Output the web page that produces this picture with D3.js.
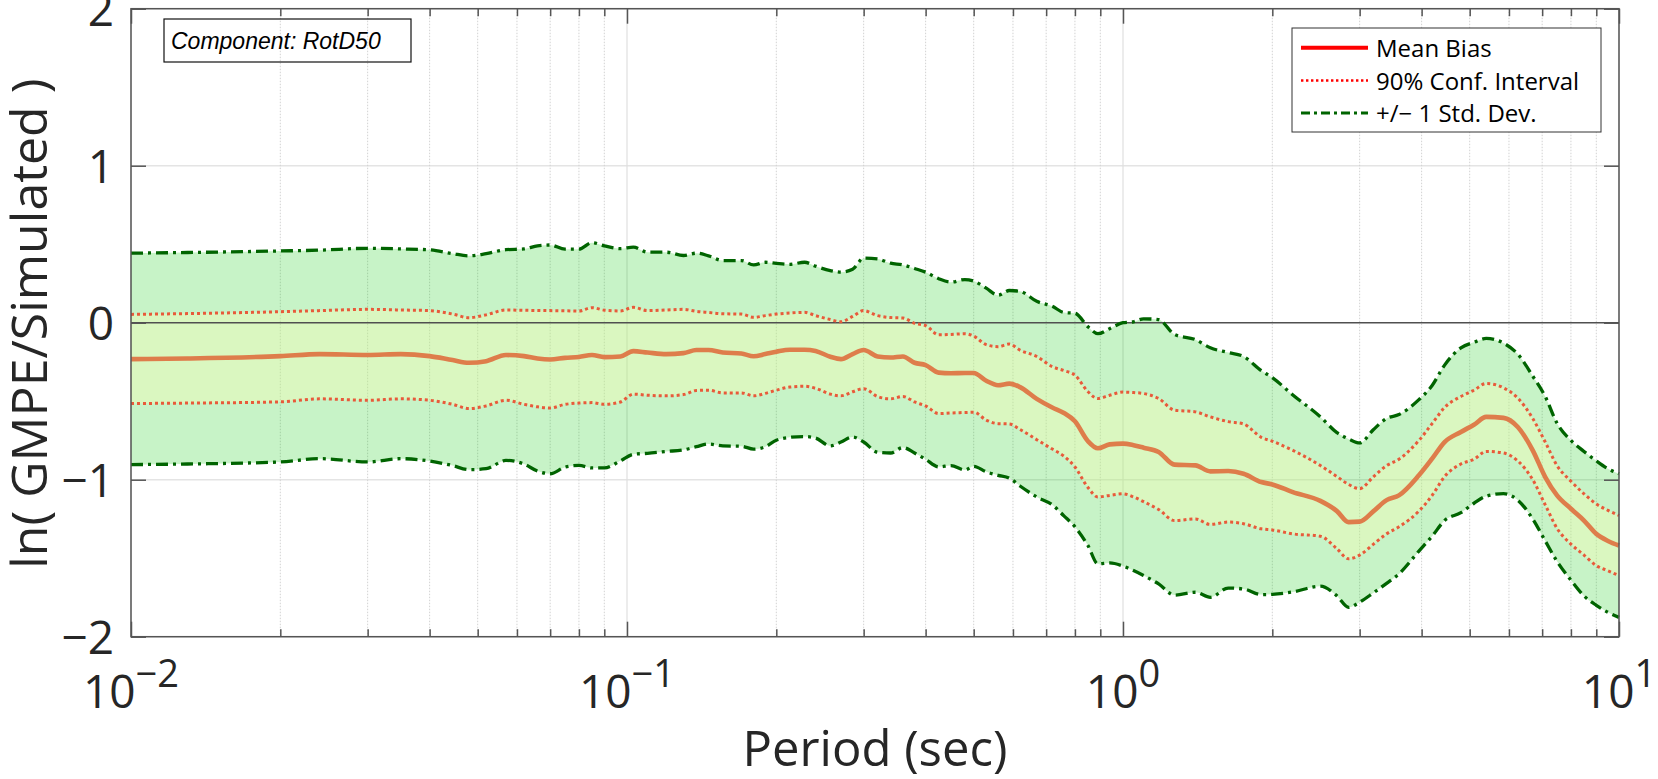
<!DOCTYPE html>
<html>
<head>
<meta charset="utf-8">
<script src="https://cdn.jsdelivr.net/npm/d3@7"></script>
<style>
  body { margin: 0; background: #fff; }
  text { font-family: "Open Sans", sans-serif; fill: #262626; }
</style>
</head>
<body>
<svg width="1658" height="779"></svg>
<script>
// periods (sec) and the five curves
var periods = [0.01, 0.013, 0.02, 0.024, 0.03, 0.035, 0.04, 0.0445, 0.048, 0.052,
  0.057, 0.062, 0.066, 0.07, 0.075, 0.08, 0.085, 0.09, 0.097, 0.103,
  0.11, 0.12, 0.13, 0.138, 0.146, 0.156, 0.17, 0.18, 0.19, 0.2,
  0.213, 0.228, 0.24, 0.257, 0.27, 0.285, 0.3, 0.32, 0.34, 0.36,
  0.38, 0.4, 0.425, 0.45, 0.48, 0.5, 0.53, 0.56, 0.59, 0.62,
  0.67, 0.72, 0.76, 0.8, 0.85, 0.89, 0.94, 1.0, 1.05, 1.1,
  1.18, 1.27, 1.4, 1.5, 1.63, 1.75, 1.9, 2.0, 2.2, 2.5,
  2.7, 2.85, 3.0, 3.2, 3.4, 3.6, 3.95, 4.2, 4.45, 4.8,
  5.1, 5.4, 5.85, 6.25, 6.7, 7.1, 7.5, 8.0, 8.5, 9.0, 9.5, 10.0];

var meanBias = [-0.232, -0.228, -0.213, -0.200, -0.206, -0.200, -0.213, -0.238, -0.255, -0.245,
  -0.206, -0.213, -0.228, -0.234, -0.224, -0.218, -0.206, -0.219, -0.215, -0.181,
  -0.190, -0.200, -0.194, -0.174, -0.174, -0.190, -0.196, -0.214, -0.200, -0.185,
  -0.172, -0.172, -0.180, -0.217, -0.232, -0.200, -0.174, -0.215, -0.222, -0.215,
  -0.255, -0.270, -0.318, -0.322, -0.320, -0.320, -0.370, -0.398, -0.388, -0.410,
  -0.485, -0.540, -0.575, -0.628, -0.755, -0.800, -0.775, -0.770, -0.780, -0.796,
  -0.823, -0.904, -0.909, -0.947, -0.945, -0.962, -1.015, -1.030, -1.079, -1.135,
  -1.200, -1.270, -1.267, -1.200, -1.130, -1.100, -0.972, -0.866, -0.760, -0.696,
  -0.650, -0.600, -0.606, -0.664, -0.813, -0.983, -1.100, -1.185, -1.260, -1.345, -1.390, -1.419];

var ciUpper = [0.053, 0.058, 0.070, 0.077, 0.085, 0.081, 0.077, 0.055, 0.032, 0.050,
  0.081, 0.079, 0.078, 0.077, 0.076, 0.074, 0.096, 0.080, 0.075, 0.098,
  0.077, 0.081, 0.085, 0.072, 0.065, 0.057, 0.055, 0.034, 0.045, 0.055,
  0.062, 0.066, 0.045, 0.020, 0.006, 0.040, 0.077, 0.045, 0.033, 0.030,
  -0.004, -0.018, -0.077, -0.075, -0.070, -0.085, -0.140, -0.153, -0.136, -0.175,
  -0.215, -0.280, -0.305, -0.334, -0.440, -0.483, -0.462, -0.442, -0.445, -0.451,
  -0.483, -0.557, -0.568, -0.600, -0.630, -0.645, -0.730, -0.755, -0.813, -0.910,
  -0.980, -1.030, -1.057, -0.980, -0.910, -0.870, -0.750, -0.643, -0.540, -0.470,
  -0.430, -0.387, -0.415, -0.480, -0.610, -0.760, -0.910, -1.010, -1.090, -1.155, -1.195, -1.228];

var ciLower = [-0.515, -0.512, -0.504, -0.485, -0.494, -0.485, -0.494, -0.520, -0.547, -0.530,
  -0.494, -0.520, -0.536, -0.543, -0.520, -0.512, -0.509, -0.520, -0.505, -0.455,
  -0.462, -0.466, -0.458, -0.432, -0.430, -0.447, -0.447, -0.466, -0.450, -0.430,
  -0.410, -0.405, -0.418, -0.455, -0.466, -0.440, -0.420, -0.470, -0.485, -0.470,
  -0.505, -0.530, -0.579, -0.575, -0.572, -0.570, -0.620, -0.643, -0.645, -0.680,
  -0.745, -0.805, -0.850, -0.919, -1.050, -1.110, -1.100, -1.090, -1.110, -1.140,
  -1.190, -1.260, -1.250, -1.285, -1.270, -1.280, -1.313, -1.320, -1.345, -1.360,
  -1.440, -1.504, -1.480, -1.410, -1.345, -1.300, -1.200, -1.100, -0.980, -0.900,
  -0.870, -0.820, -0.830, -0.880, -1.000, -1.160, -1.310, -1.410, -1.480, -1.547, -1.580, -1.611];

var stdUpper = [0.443, 0.447, 0.457, 0.462, 0.474, 0.470, 0.464, 0.440, 0.426, 0.440,
  0.465, 0.470, 0.490, 0.495, 0.468, 0.468, 0.510, 0.490, 0.472, 0.481,
  0.449, 0.449, 0.428, 0.443, 0.426, 0.396, 0.396, 0.368, 0.385, 0.378,
  0.372, 0.385, 0.360, 0.332, 0.322, 0.340, 0.411, 0.406, 0.379, 0.368,
  0.345, 0.322, 0.280, 0.258, 0.275, 0.265, 0.220, 0.175, 0.205, 0.200,
  0.136, 0.105, 0.065, 0.060, -0.026, -0.070, -0.038, 0.000, 0.006, 0.025,
  0.020, -0.075, -0.108, -0.160, -0.190, -0.215, -0.305, -0.350, -0.460, -0.600,
  -0.700, -0.740, -0.766, -0.680, -0.610, -0.585, -0.490, -0.400, -0.270, -0.160,
  -0.125, -0.100, -0.130, -0.200, -0.340, -0.470, -0.640, -0.750, -0.820, -0.880, -0.930, -0.962];

var stdLower = [-0.904, -0.900, -0.887, -0.866, -0.887, -0.866, -0.881, -0.910, -0.936, -0.930,
  -0.877, -0.900, -0.945, -0.962, -0.920, -0.909, -0.925, -0.925, -0.880, -0.838,
  -0.832, -0.820, -0.810, -0.790, -0.772, -0.785, -0.787, -0.805, -0.790, -0.749,
  -0.730, -0.725, -0.735, -0.785, -0.760, -0.728, -0.760, -0.825, -0.830, -0.795,
  -0.830, -0.870, -0.918, -0.910, -0.938, -0.915, -0.950, -0.972, -0.990, -1.040,
  -1.110, -1.160, -1.230, -1.300, -1.420, -1.536, -1.530, -1.550, -1.579, -1.610,
  -1.664, -1.735, -1.717, -1.749, -1.690, -1.696, -1.732, -1.730, -1.715, -1.678,
  -1.740, -1.813, -1.780, -1.720, -1.660, -1.600, -1.455, -1.360, -1.260, -1.210,
  -1.150, -1.105, -1.089, -1.130, -1.250, -1.390, -1.520, -1.640, -1.740, -1.800, -1.845, -1.877];

var yTicks = [-2, -1, 0, 1, 2];
var xMajor = [0.01, 0.1, 1, 10];
var xExponents = ["\u22122", "\u22121", "0", "1"];
var legendLabels = ["Mean Bias", "90% Conf. Interval", "+/\u2212 1 Std. Dev."];

function drawPlot() {
  var margin = {left: 131, top: 8.7, right: 39, bottom: 142.3};
  var svg = d3.select("svg");
  var width = svg.attr("width") - margin.left - margin.right,
    height = svg.attr("height") - margin.top - margin.bottom;

  var x = d3.scaleLog().domain([0.01, 10]).range([0, width]);
  var y = d3.scaleLinear().domain([-2, 2]).range([height, 0]);
  var rows = periods.map((p, i) => ({p: p, m: meanBias[i], cu: ciUpper[i], cl: ciLower[i], su: stdUpper[i], sl: stdLower[i]}));
  var minor = x.ticks().filter(t => xMajor.indexOf(t) < 0);

  var grp = svg.append("g")
    .attr("transform", "translate(" + margin.left + "," + margin.top + ")");

  // grid
  grp.selectAll(".hgrid").data(yTicks.filter(t => t != 0))
    .enter().append("line")
    .attr("x1", 0).attr("x2", width)
    .attr("y1", d => y(d)).attr("y2", d => y(d))
    .style("stroke", "#e4e4e4").style("stroke-width", 1.5);
  grp.selectAll(".vminor").data(minor)
    .enter().append("line")
    .attr("x1", d => x(d)).attr("x2", d => x(d))
    .attr("y1", 0).attr("y2", height)
    .style("stroke", "#d2d2d2").style("stroke-width", 1).style("stroke-dasharray", "1.5,1.5");
  grp.selectAll(".vmajor").data(xMajor)
    .enter().append("line")
    .attr("x1", d => x(d)).attr("x2", d => x(d))
    .attr("y1", 0).attr("y2", height)
    .style("stroke", "#e0e0e0").style("stroke-width", 1.2);

  // bands
  var band = (lo, hi) => d3.area().curve(d3.curveMonotoneX)
    .x(d => x(d.p)).y0(d => y(d[lo])).y1(d => y(d[hi]));
  grp.append("path").datum(rows).attr("d", band("sl", "su"))
    .style("fill", "rgb(0,200,0)").style("fill-opacity", 0.22);
  grp.append("path").datum(rows).attr("d", band("cl", "cu"))
    .style("fill", "rgb(255,255,180)").style("fill-opacity", 0.34);

  // zero line
  grp.append("line")
    .attr("x1", 0).attr("x2", width).attr("y1", y(0)).attr("y2", y(0))
    .style("stroke", "#505050").style("stroke-width", 1.6);

  var line = key => d3.line().curve(d3.curveMonotoneX).x(d => x(d.p)).y(d => y(d[key]));
  ["su", "sl"].forEach(k => grp.append("path").datum(rows).attr("d", line(k))
    .style("fill", "none").style("stroke", "#006400").style("stroke-width", 3.3)
    .style("stroke-dasharray", "12,5,3,5"));
  ["cu", "cl"].forEach(k => grp.append("path").datum(rows).attr("d", line(k))
    .style("fill", "none").style("stroke", "#e85a3a").style("stroke-width", 3)
    .style("stroke-dasharray", "3,3"));
  grp.append("path").datum(rows).attr("d", line("m"))
    .style("fill", "none").style("stroke", "#de7d4b").style("stroke-width", 4.6)
    .style("stroke-linejoin", "round");

  // axes (ticks inside)
  var axes = [
    [d3.axisBottom(x).tickValues(xMajor).tickSize(-15), "translate(0," + height + ")"],
    [d3.axisBottom(x).tickValues(minor).tickSize(-7.5), "translate(0," + height + ")"],
    [d3.axisTop(x).tickValues(xMajor).tickSize(-15), null],
    [d3.axisTop(x).tickValues(minor).tickSize(-7.5), null],
    [d3.axisRight(y).tickValues(yTicks).tickSize(-15), "translate(" + width + ",0)"]
  ];
  axes.forEach(a => {
    var g = grp.append("g").attr("color", "#555").call(a[0].tickFormat(""));
    if (a[1]) g.attr("transform", a[1]);
    g.select(".domain").remove();
    g.selectAll("line").style("stroke-width", 1.5);
  });
  var yAxis = grp.append("g").attr("color", "#555")
    .call(d3.axisLeft(y).tickValues(yTicks).tickSize(-15).tickPadding(17).tickFormat(d3.format("d")));
  yAxis.select(".domain").remove();
  yAxis.selectAll("line").style("stroke-width", 1.5);
  yAxis.selectAll("text")
    .style("font-family", "'Open Sans', sans-serif").style("font-size", "46px")
    .style("fill", "#262626").attr("dy", "0.36em");

  grp.append("rect").attr("width", width).attr("height", height)
    .style("fill", "none").style("stroke", "#555").style("stroke-width", 1.5);

  // x tick labels with exponents
  var xl = grp.selectAll(".xlab").data(xMajor)
    .enter().append("text")
    .attr("x", d => x(d)).attr("y", height + 71.5)
    .attr("text-anchor", "middle").style("font-size", "46px");
  xl.append("tspan").text("10");
  xl.append("tspan").attr("dy", -21).style("font-size", "38px")
    .text((d, i) => xExponents[i]);

  // axis titles
  grp.append("text").attr("x", width / 2).attr("y", height + 129.5)
    .attr("text-anchor", "middle").style("font-size", "49px").text("Period (sec)");
  grp.append("text")
    .attr("transform", "translate(" + (47 - margin.left) + "," + (y(0) + 1) + ")rotate(-90)")
    .attr("text-anchor", "middle").style("font-size", "50px").text("ln( GMPE/Simulated )");

  // component box
  grp.append("rect").attr("x", 33).attr("y", 10.3).attr("width", 247).attr("height", 43)
    .style("fill", "none").style("stroke", "#111").style("stroke-width", 1.2);
  grp.append("text").attr("x", 40).attr("y", 40.8)
    .style("font-family", "'Liberation Sans', Arial, sans-serif").style("font-style", "italic")
    .style("font-size", "23px").style("fill", "#000").text("Component: RotD50");

  // legend
  var lg = grp.append("g").attr("transform", "translate(" + (width - 327) + ",19.3)");
  lg.append("rect").attr("width", 309).attr("height", 104)
    .style("fill", "#fff").style("stroke", "#333").style("stroke-width", 1);
  var styles = [
    {c: "#ff0000", w: 4, dash: null},
    {c: "#ff0000", w: 2.5, dash: "2.4,2.6"},
    {c: "#006400", w: 3, dash: "9,4,3,4"}
  ];
  lg.selectAll(".row").data(legendLabels)
    .enter().append("g")
    .attr("transform", (d, i) => "translate(0," + (19.7 + i * 32.7) + ")")
    .each(function(d, i) {
      var r = d3.select(this);
      r.append("line").attr("x1", 9).attr("x2", 76)
        .style("stroke", styles[i].c).style("stroke-width", styles[i].w)
        .style("stroke-dasharray", styles[i].dash);
      r.append("text").attr("x", 84).attr("y", 9.3)
        .style("font-size", "24px").style("fill", "#000").text(d);
    });
}
drawPlot();
</script>
</body>
</html>
